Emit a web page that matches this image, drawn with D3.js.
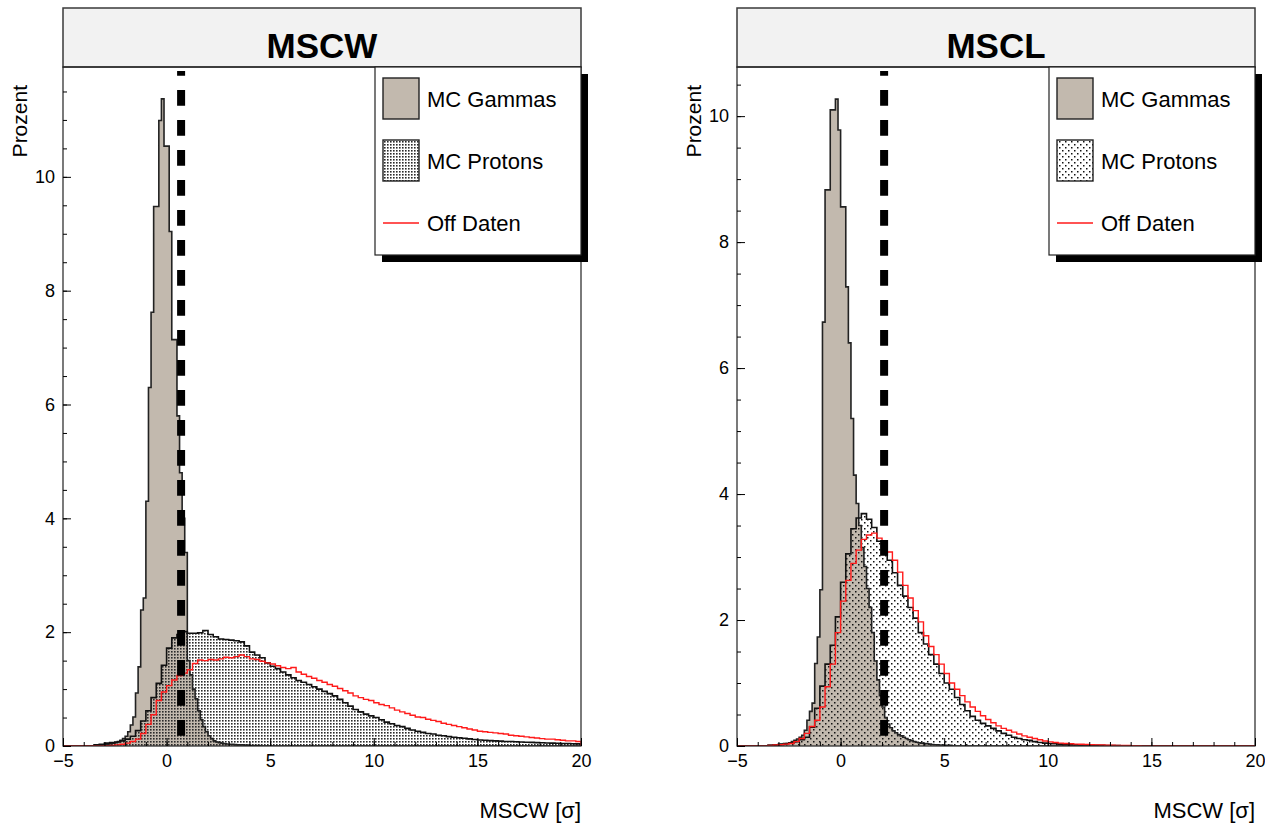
<!DOCTYPE html>
<html>
<head>
<meta charset="utf-8">
<script src="https://cdn.jsdelivr.net/npm/d3@7"></script>
<style>
  body { margin: 0; background: #fff; }
  text { font-family: "Liberation Sans", Arial, Helvetica, sans-serif; }
</style>
</head>
<body>
<svg id="chart" width="1265" height="824"></svg>
<script>
(function(){

    //bin widths (in sigma)
    var gammaBin = 0.125,
        wideBin = 0.25;

    //MSCW panel: MC gammas (0.125 bins starting at -3.5)
    var mscwGammaStart = -3.5;
    var mscwGamma = [
        0.01, 0.01, 0.015, 0.02, 0.025, 0.03, 0.04, 0.05, 0.06, 0.08,
        0.10, 0.13, 0.17, 0.25, 0.37, 0.51, 0.93, 1.39, 2.39, 2.6,
        4.3, 6.3, 7.62, 9.48, 9.48, 10.99, 11.37, 10.54, 10.54, 9.04,
        7.14, 7.14, 5.8, 4.8, 4.0, 3.4, 1.5, 1.25, 1.0, 0.83,
        0.62, 0.46, 0.34, 0.25, 0.18, 0.13, 0.09, 0.07, 0.06, 0.05,
        0.04, 0.035, 0.03, 0.03, 0.025, 0.02, 0.02, 0.02, 0.015, 0.015,
        0.01, 0.01, 0.01, 0.01
    ];
    //MSCW panel: MC protons (0.25 bins starting at -3.5)
    var mscwProtonStart = -3.5;
    var mscwProton = [
        0.02, 0.03, 0.05, 0.06, 0.07, 0.09, 0.12, 0.17, 0.27, 0.44,
        0.62, 0.85, 1.1, 1.42, 1.72, 1.9, 1.96, 2.01, 1.98, 1.98,
        1.99, 2.03, 1.96, 1.92, 1.88, 1.87, 1.86, 1.85, 1.83, 1.76,
        1.65, 1.6, 1.55, 1.46, 1.4, 1.36, 1.3, 1.25, 1.2, 1.15,
        1.12, 1.08, 1.04, 1.0, 0.96, 0.92, 0.88, 0.82, 0.76, 0.7,
        0.64, 0.6, 0.56, 0.53, 0.5, 0.46, 0.42, 0.39, 0.36, 0.34,
        0.31, 0.28, 0.26, 0.24, 0.22, 0.21, 0.19, 0.18, 0.165, 0.155,
        0.145, 0.135, 0.125, 0.115, 0.105, 0.10, 0.095, 0.09, 0.085, 0.08,
        0.078, 0.075, 0.07, 0.067, 0.063, 0.06, 0.057, 0.053, 0.05, 0.048,
        0.045, 0.043, 0.04, 0.038
    ];
    //MSCW panel: Off data (0.25 bins starting at -3.0)
    var mscwOffStart = -3.0;
    var mscwOff = [
        0.005, 0.01, 0.02, 0.03, 0.05, 0.08, 0.12, 0.22, 0.38, 0.55,
        0.8, 0.95, 1.06, 1.16, 1.24, 1.28, 1.34, 1.45, 1.51, 1.5,
        1.52, 1.51, 1.53, 1.56, 1.55, 1.57, 1.6, 1.57, 1.53, 1.52,
        1.49, 1.46, 1.44, 1.41, 1.38, 1.36, 1.38, 1.3, 1.26, 1.22,
        1.19, 1.15, 1.12, 1.08, 1.05, 1.01, 0.97, 0.93, 0.88, 0.85,
        0.82, 0.8, 0.76, 0.73, 0.71, 0.67, 0.63, 0.6, 0.57, 0.54,
        0.51, 0.5, 0.47, 0.45, 0.43, 0.4, 0.38, 0.36, 0.34, 0.32,
        0.3, 0.28, 0.26, 0.25, 0.24, 0.23, 0.22, 0.21, 0.19, 0.18,
        0.17, 0.16, 0.15, 0.14, 0.13, 0.12, 0.12, 0.11, 0.10, 0.09,
        0.09, 0.08
    ];

    //MSCL panel: MC gammas (0.125 bins starting at -3.5)
    var msclGammaStart = -3.5;
    var msclGamma = [
        0.01, 0.01, 0.01, 0.015, 0.02, 0.025, 0.03, 0.04, 0.05, 0.07,
        0.09, 0.11, 0.14, 0.17, 0.25, 0.41, 0.55, 0.68, 1.31, 1.73,
        2.48, 6.73, 8.83, 8.83, 10.1, 10.1, 10.27, 9.78, 8.56, 8.56,
        7.29, 6.4, 5.2, 4.3, 3.85, 3.5, 3.15, 2.85, 2.5, 2.2,
        1.8, 1.35, 1.05, 0.8, 0.62, 0.45, 0.35, 0.29, 0.24, 0.21,
        0.18, 0.16, 0.14, 0.12, 0.10, 0.085, 0.07, 0.06, 0.05, 0.045,
        0.04, 0.035, 0.03, 0.025, 0.02, 0.02, 0.015, 0.015, 0.01, 0.01,
        0.01
    ];
    //MSCL panel: MC protons (0.25 bins starting at -3.5)
    var msclProtonStart = -3.5;
    var msclProton = [
        0.01, 0.02, 0.03, 0.04, 0.05, 0.07, 0.10, 0.14, 0.3, 0.6,
        0.95, 1.3, 1.6, 2.05, 2.6, 3.05, 3.45, 3.62, 3.69, 3.6,
        3.47, 3.25, 3.1, 2.95, 2.75, 2.55, 2.38, 2.2, 2.03, 1.8,
        1.62, 1.45, 1.3, 1.15, 1.0, 0.9, 0.77, 0.66, 0.56, 0.47,
        0.41, 0.36, 0.32, 0.28, 0.24, 0.2, 0.17, 0.14, 0.12, 0.10,
        0.09, 0.07, 0.055, 0.045, 0.04, 0.035, 0.03, 0.025, 0.02, 0.02,
        0.018, 0.015, 0.012, 0.01, 0.01, 0.008, 0.007, 0.006, 0.005, 0.004
    ];
    //MSCL panel: Off data (0.25 bins starting at -3.5)
    var msclOffStart = -3.5;
    var msclOff = [
        0.01, 0.015, 0.02, 0.03, 0.04, 0.07, 0.12, 0.2, 0.31, 0.41,
        0.62, 0.94, 1.3, 1.8, 2.3, 2.63, 2.9, 3.11, 3.28, 3.35,
        3.38, 3.3, 3.2, 3.08, 2.95, 2.76, 2.55, 2.35, 2.15, 1.97,
        1.75, 1.58, 1.45, 1.3, 1.15, 1.0, 0.9, 0.8, 0.7, 0.62,
        0.55, 0.48, 0.42, 0.37, 0.32, 0.28, 0.25, 0.22, 0.19, 0.16,
        0.14, 0.12, 0.10, 0.08, 0.065, 0.055, 0.045, 0.04, 0.035, 0.03,
        0.028, 0.025, 0.02, 0.018, 0.015, 0.013, 0.012, 0.01, 0.01, 0.008,
        0.006, 0.005
    ];

    //cut positions (dashed lines)
    var cutMSCW = 0.7,
        cutMSCL = 2.1;

    //axis ticks and labels
    var xTicks = [-5, 0, 5, 10, 15, 20];
    var yTicks = [0, 2, 4, 6, 8, 10];
    var xDomain = [-5, 20];
    var panelTitles = ["MSCW", "MSCL"];
    var legendLabels = ["MC Gammas", "MC Protons", "Off Daten"];
    var xTitle = "MSCW [\u03c3]",
        yTitle = "Prozent";

    var gammaColor = "#c2b9ae",
        offColor = "#ff1a1a";

    var top = 67, bottom = 746, titleTop = 8;

    var svg = d3.select("#chart");
    var defs = svg.append("defs");

    //dot hatch patterns (ROOT like fill styles)
    var dense = defs.append("pattern")
        .attr("id", "dotsDense")
        .attr("patternUnits", "userSpaceOnUse")
        .attr("width", 3).attr("height", 3);
    dense.append("rect").attr("x", 0).attr("y", 0).attr("width", 1.6).attr("height", 1.6).attr("fill", "#2a2a2a");

    var sparse = defs.append("pattern")
        .attr("id", "dotsSparse")
        .attr("patternUnits", "userSpaceOnUse")
        .attr("width", 6).attr("height", 6);
    sparse.append("rect").attr("x", 0).attr("y", 0).attr("width", 1.5).attr("height", 1.5).attr("fill", "#111");
    sparse.append("rect").attr("x", 3).attr("y", 3).attr("width", 1.5).attr("height", 1.5).attr("fill", "#111");

    var panels = [
        {id: "mscw", left: 63, right: 581, title: panelTitles[0], yMax: 11.93,
         gamma: [mscwGammaStart, gammaBin, mscwGamma],
         proton: [mscwProtonStart, wideBin, mscwProton],
         off: [mscwOffStart, wideBin, mscwOff],
         cut: cutMSCW, pattern: "dotsDense"},
        {id: "mscl", left: 737, right: 1255, title: panelTitles[1], yMax: 10.78,
         gamma: [msclGammaStart, gammaBin, msclGamma],
         proton: [msclProtonStart, wideBin, msclProton],
         off: [msclOffStart, wideBin, msclOff],
         cut: cutMSCL, pattern: "dotsSparse"}
    ];

    panels.forEach(drawPanel);

    //turn binned values into step points covering the whole x range
    function stepPoints(h){
        var start = h[0], w = h[1], vals = h[2];
        var pts = [{x: xDomain[0], v: 0}];
        vals.forEach(function(v, i){ pts.push({x: start + i * w, v: v}); });
        pts.push({x: start + vals.length * w, v: 0});
        pts.push({x: xDomain[1], v: 0});
        return pts;
    }

    function drawPanel(p){
        var x = d3.scaleLinear().domain(xDomain).range([p.left, p.right]);
        var y = d3.scaleLinear().domain([0, p.yMax]).range([bottom, top]);

        var g = svg.append("g").attr("class", "panel " + p.id);

        //title box
        g.append("rect")
            .attr("x", p.left).attr("y", titleTop)
            .attr("width", p.right - p.left).attr("height", top - titleTop)
            .attr("fill", "#f2f2f2").attr("stroke", "#3a3a3a").attr("stroke-width", 1.5);
        g.append("text")
            .attr("x", (p.left + p.right) / 2).attr("y", 58)
            .attr("text-anchor", "middle")
            .attr("font-size", 35).attr("font-weight", "bold")
            .text(p.title);

        defs.append("clipPath").attr("id", "clip-" + p.id)
            .append("rect")
            .attr("x", p.left).attr("y", top)
            .attr("width", p.right - p.left).attr("height", bottom - top);

        var plot = g.append("g").attr("clip-path", "url(#clip-" + p.id + ")");

        var area = d3.area()
            .curve(d3.curveStepAfter)
            .x(function(d){ return x(d.x); })
            .y0(y(0))
            .y1(function(d){ return y(d.v); });
        var line = d3.line()
            .curve(d3.curveStepAfter)
            .x(function(d){ return x(d.x); })
            .y(function(d){ return y(d.v); });

        var gPts = stepPoints(p.gamma),
            pPts = stepPoints(p.proton),
            oPts = stepPoints(p.off);

        plot.append("path").datum(gPts)
            .attr("d", area).attr("fill", gammaColor);
        plot.append("path").datum(pPts)
            .attr("d", area).attr("fill", "url(#" + p.pattern + ")");
        plot.append("path").datum(gPts)
            .attr("d", line).attr("fill", "none")
            .attr("stroke", "#222").attr("stroke-width", 1.6);
        plot.append("path").datum(pPts)
            .attr("d", line).attr("fill", "none")
            .attr("stroke", "#111").attr("stroke-width", 1.6);
        plot.append("path").datum(oPts)
            .attr("d", line).attr("fill", "none")
            .attr("stroke", offColor).attr("stroke-width", 1.4);

        //cut line
        plot.append("line")
            .attr("x1", x(p.cut)).attr("x2", x(p.cut))
            .attr("y1", 71).attr("y2", bottom)
            .attr("stroke", "#000").attr("stroke-width", 8)
            .attr("stroke-dasharray", "15.7 14.3")
            .attr("stroke-dashoffset", 11);

        //frame
        g.append("rect")
            .attr("x", p.left).attr("y", top)
            .attr("width", p.right - p.left).attr("height", bottom - top)
            .attr("fill", "none").attr("stroke", "#222").attr("stroke-width", 1.2);

        //x axis (ticks inside)
        var xMinor = g.append("g")
            .attr("transform", "translate(0," + bottom + ")")
            .call(d3.axisBottom(x).tickValues(d3.range(-5, 20.5, 1)).tickSize(-4).tickFormat(""));
        xMinor.select(".domain").remove();
        var xAxis = g.append("g")
            .attr("transform", "translate(0," + bottom + ")")
            .call(d3.axisBottom(x).tickValues(xTicks).tickSize(-8).tickPadding(8));
        xAxis.select(".domain").remove();
        xAxis.selectAll("text")
            .attr("font-size", 18)
            .attr("font-family", "Liberation Sans, Arial, sans-serif")
            .attr("fill", "#000");

        //y axis (ticks inside)
        var yMinor = g.append("g")
            .attr("transform", "translate(" + p.left + ",0)")
            .call(d3.axisLeft(y).tickValues(d3.range(0, p.yMax, 0.5)).tickSize(-4).tickFormat(""));
        yMinor.select(".domain").remove();
        var yAxis = g.append("g")
            .attr("transform", "translate(" + p.left + ",0)")
            .call(d3.axisLeft(y).tickValues(yTicks).tickSize(-8).tickPadding(8));
        yAxis.select(".domain").remove();
        yAxis.selectAll("text")
            .attr("font-size", 18)
            .attr("font-family", "Liberation Sans, Arial, sans-serif")
            .attr("fill", "#000");

        //axis titles
        g.append("text")
            .attr("x", p.right).attr("y", 818)
            .attr("text-anchor", "end")
            .attr("font-size", 22)
            .text(xTitle);
        g.append("text")
            .attr("transform", "translate(" + (p.left - 36) + "," + 85 + ") rotate(-90)")
            .attr("text-anchor", "end")
            .attr("font-size", 21)
            .text(yTitle);

        //legend with drop shadow
        var lw = 206, lh = 188, lx = p.right - lw, ly = top;
        g.append("rect")
            .attr("x", lx + 7).attr("y", ly + 7)
            .attr("width", lw).attr("height", lh)
            .attr("fill", "#000");
        g.append("rect")
            .attr("x", lx).attr("y", ly)
            .attr("width", lw).attr("height", lh)
            .attr("fill", "#fff").attr("stroke", "#222").attr("stroke-width", 1.2);

        var rows = [11, 73, 135];
        g.append("rect")
            .attr("x", lx + 8).attr("y", ly + rows[0])
            .attr("width", 36).attr("height", 41)
            .attr("fill", gammaColor).attr("stroke", "#222").attr("stroke-width", 1.4);
        g.append("rect")
            .attr("x", lx + 8).attr("y", ly + rows[1])
            .attr("width", 36).attr("height", 41)
            .attr("fill", "url(#" + p.pattern + ")").attr("stroke", "#222").attr("stroke-width", 1.4);
        g.append("line")
            .attr("x1", lx + 8).attr("x2", lx + 44)
            .attr("y1", ly + rows[2] + 21).attr("y2", ly + rows[2] + 21)
            .attr("stroke", offColor).attr("stroke-width", 1.4);

        g.selectAll(".legendText")
            .data(legendLabels)
            .enter()
            .append("text")
            .attr("class", "legendText")
            .attr("x", lx + 52)
            .attr("y", function(d, i){ return ly + rows[i] + 29; })
            .attr("font-size", 22)
            .text(function(d){ return d; });
    }

})();
</script>
</body>
</html>
